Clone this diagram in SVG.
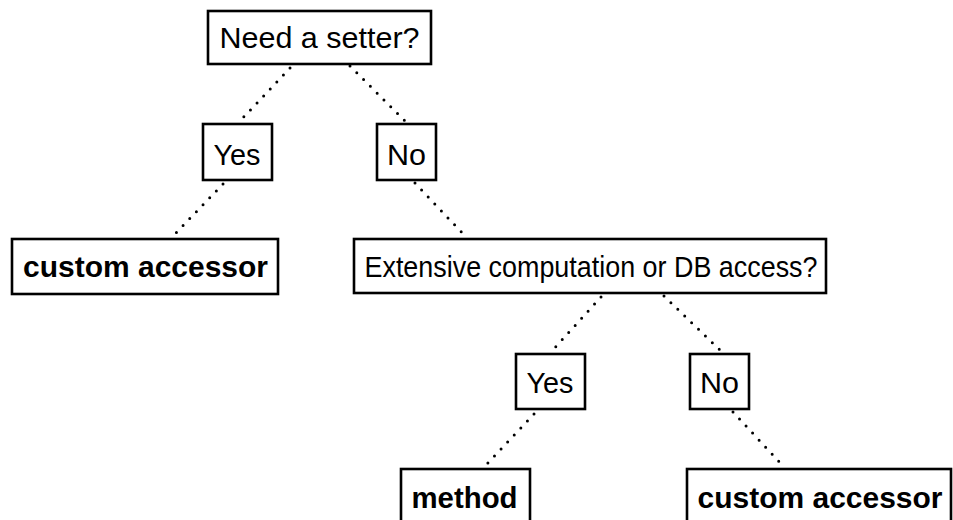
<svg xmlns="http://www.w3.org/2000/svg" width="953" height="520" viewBox="0 0 953 520">
<style>
.box{fill:#fff;stroke:#000;stroke-width:2.6}
.t{font-family:"Liberation Sans",Arial,Helvetica,sans-serif;font-size:30px;fill:#000;text-anchor:middle}
.b{font-weight:bold;font-size:30px}
.c{fill:none;stroke:#000;stroke-width:3;stroke-linecap:round;stroke-dasharray:0 9.6}
</style>
<rect width="953" height="520" fill="#fff"/>
<g id="connectors">
<line class="c" x1="290" y1="68" x2="239" y2="122"/>
<line class="c" x1="350" y1="66" x2="407" y2="123"/>
<line class="c" x1="223" y1="184" x2="173" y2="236"/>
<line class="c" x1="415" y1="183" x2="467" y2="238"/>
<line class="c" x1="601" y1="297" x2="551" y2="352"/>
<line class="c" x1="664" y1="296" x2="723" y2="353"/>
<line class="c" x1="534" y1="414" x2="484" y2="467"/>
<line class="c" x1="733" y1="412" x2="784" y2="467"/>
</g>
<g id="n-setter"><rect class="box" x="208" y="11" width="223" height="53"/><text class="t" x="319.5" y="48" textLength="200" lengthAdjust="spacingAndGlyphs">Need a setter?</text></g>
<g id="n-yes1"><rect class="box" x="203" y="124" width="69" height="56"/><text class="t" x="237" y="165" textLength="47" lengthAdjust="spacingAndGlyphs">Yes</text></g>
<g id="n-no1"><rect class="box" x="377" y="124" width="59" height="56"/><text class="t" x="406.5" y="165" textLength="39" lengthAdjust="spacingAndGlyphs">No</text></g>
<g id="n-custom1"><rect class="box" x="12" y="239" width="266" height="55"/><text class="t b" x="145.5" y="277" textLength="245" lengthAdjust="spacingAndGlyphs">custom accessor</text></g>
<g id="n-extensive"><rect class="box" x="354" y="239" width="472" height="54"/><text class="t" x="591" y="277" textLength="453" lengthAdjust="spacingAndGlyphs">Extensive computation or DB access?</text></g>
<g id="n-yes2"><rect class="box" x="516" y="354" width="69" height="55"/><text class="t" x="550" y="393" textLength="47" lengthAdjust="spacingAndGlyphs">Yes</text></g>
<g id="n-no2"><rect class="box" x="690" y="354" width="59" height="55"/><text class="t" x="719.5" y="393" textLength="39" lengthAdjust="spacingAndGlyphs">No</text></g>
<g id="n-method"><rect class="box" x="401" y="469" width="129" height="56"/><text class="t b" x="464.5" y="508" textLength="106" lengthAdjust="spacingAndGlyphs">method</text></g>
<g id="n-custom2"><rect class="box" x="687" y="469" width="264" height="56"/><text class="t b" x="820" y="508" textLength="245" lengthAdjust="spacingAndGlyphs">custom accessor</text></g>
</svg>
